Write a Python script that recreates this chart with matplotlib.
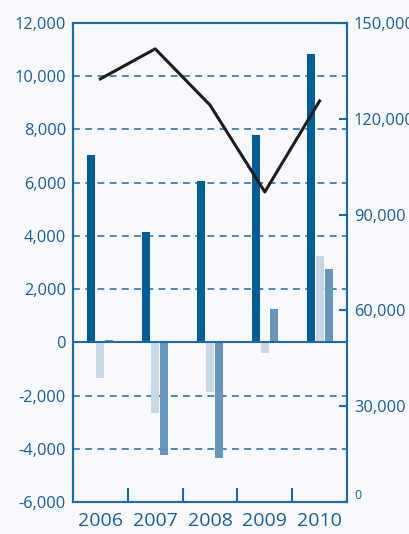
import matplotlib
matplotlib.use("Agg")
import matplotlib.pyplot as plt
import numpy as np

years = ["2006", "2007", "2008", "2009", "2010"]
series_dark = [7050, 4150, 6050, 7800, 10850]
series_light = [-1350, -2650, -1850, -400, 3250]
series_mid = [100, -4250, -4350, 1250, 2750]
line_values = [132500, 141900, 124300, 97100, 125600]

left_ticks = [-6000, -4000, -2000, 0, 2000, 4000, 6000, 8000, 10000, 12000]
right_ticks = [0, 30000, 60000, 90000, 120000, 150000]

bg = "#f7f9fc"
axis_col = "#1f6aa0"
c_dark = "#005d96"
c_light = "#cad7e5"
c_mid = "#6896bc"
text_col = "#1a5f94"

plt.rcParams['font.family'] = ['Open Sans', 'DejaVu Sans']

fig = plt.figure(figsize=(4.09, 5.34), dpi=100, facecolor=bg)
ax = fig.add_axes([73/409, 32/534, 274/409, 479/534], facecolor=bg)

x = np.arange(len(years))
w = 0.146
step = 0.164
ax.bar(x - step, series_dark, width=w, color=c_dark, zorder=3)
ax.bar(x, series_light, width=w, color=c_light, zorder=3)
ax.bar(x + step, series_mid, width=w, color=c_mid, zorder=3)

ax.set_xlim(-0.5, len(years) - 0.5)
ax.set_ylim(-6000, 12000)
ax.set_yticks(left_ticks)
ax.set_yticklabels([f"{v:,}" for v in left_ticks], fontsize=11.8, color=text_col)
ax.tick_params(axis='y', length=0, pad=5)

for v in left_ticks:
    if v not in (0, -6000, 12000):
        ax.axhline(v, color=axis_col, lw=1.1, ls=(0, (4.5, 3.5)), zorder=1)
ax.axhline(0, color=axis_col, lw=1.5, zorder=4)

ax.set_xticks(x)
ax.set_xticklabels(years, fontsize=14, color=text_col)
ax.tick_params(axis='x', length=0, pad=7)
ax.set_xticks(np.arange(0.5, len(years) - 0.5, 1), minor=True)
ax.tick_params(axis='x', which='minor', direction='in', length=10, width=1.5, color=axis_col)

for s in ax.spines.values():
    s.set_color(axis_col)
    s.set_linewidth(1.5)

ax2 = ax.twinx()
ax2.plot(x, line_values, color="#1e1c1d", lw=2.2, zorder=5)
ax2.set_ylim(0, 150000)
ax2.set_yticks(right_ticks)
ax2.set_yticklabels([f"{v:,}" for v in right_ticks], fontsize=11.8, color=text_col)
ax2.tick_params(axis='y', direction='in', length=6, width=1.5, color=axis_col, pad=5)
lbls = ax2.get_yticklabels()
lbls[0].set_fontsize(9)
lbls[0].set_verticalalignment('bottom')
for s in ax2.spines.values():
    s.set_color(axis_col)
    s.set_linewidth(1.5)

fig.savefig("out.png", dpi=100, facecolor=bg)
